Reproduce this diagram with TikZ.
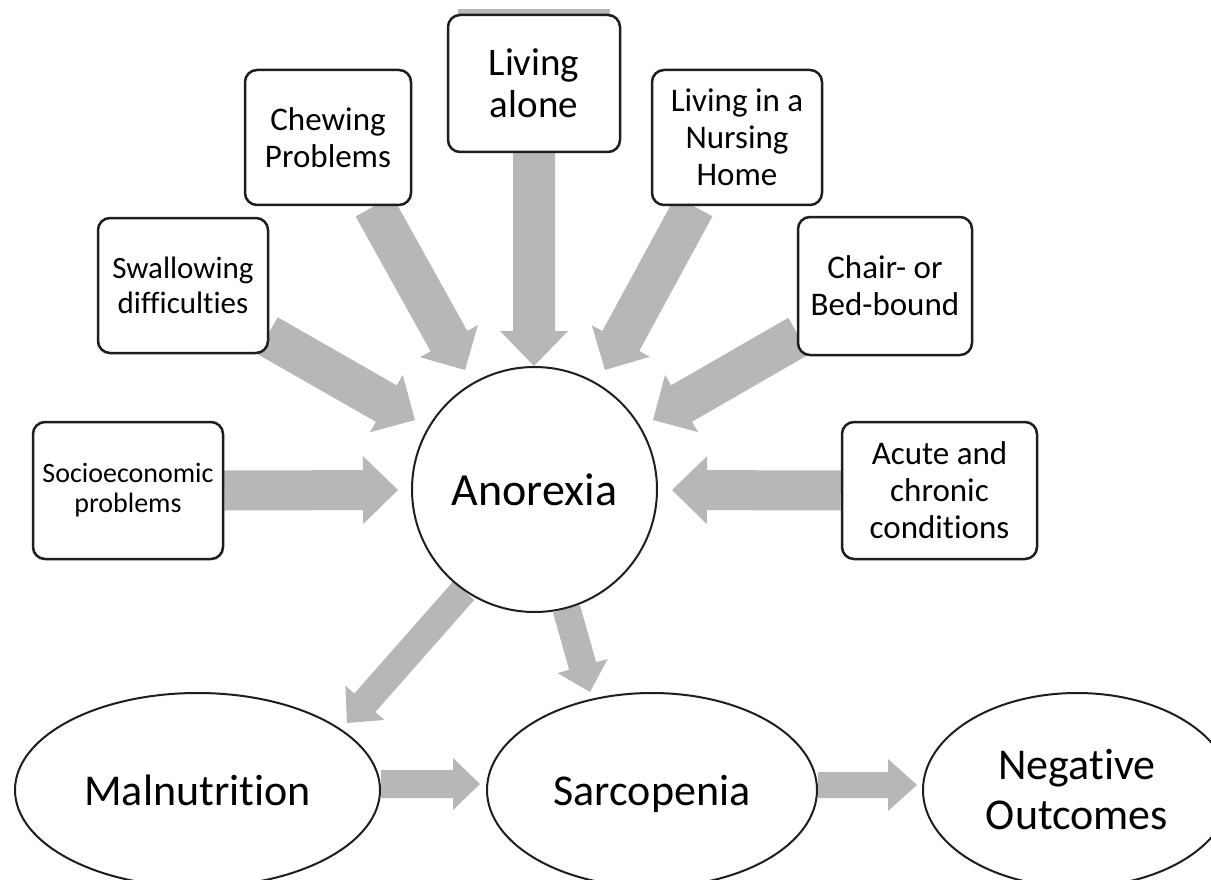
\documentclass[tikz,border=0pt]{standalone}
\usepackage{fontspec}
\setmainfont{Carlito}[Ligatures={NoCommon}]
\usetikzlibrary{calc,shapes.geometric}
\pgfdeclarelayer{bg}
\pgfsetlayers{bg,main}
\definecolor{arrowfill}{RGB}{183,183,183}
\definecolor{edgecol}{RGB}{30,30,30}
\newcommand{\blockarrow}[5]{%
  \coordinate (bahead) at ($(#2)!#5!(#1)$);
  \fill[arrowfill] ($(#1)!#3!90:(#2)$) -- ($(bahead)!#3!90:(#2)$) -- ($(bahead)!#4!90:(#2)$) -- (#2)
    -- ($(bahead)!#4!-90:(#2)$) -- ($(bahead)!#3!-90:(#2)$) -- ($(#1)!#3!-90:(#2)$) -- cycle;
}
\begin{document}
\begin{tikzpicture}[x=1pt,y=-1pt,
  box/.style={draw=edgecol, line width=2.5pt, rounded corners=12pt, fill=white, align=center, inner sep=0pt},
  oval/.style={draw=edgecol, line width=2pt, ellipse, fill=white, align=center, inner sep=0pt,
    font=\fontsize{44}{50}\selectfont},
  txt33/.style={font=\fontsize{33}{37}\selectfont}]
\clip (0,0) rectangle (1211,880);
% nodes
\node[box, txt33, minimum width=172pt, minimum height=137pt, font=\fontsize{39}{42}\selectfont] (live) at (534,83.5) {Living\\alone};
\node[box, txt33, minimum width=166pt, minimum height=135pt] (chew) at (328,137.5) {Chewing\\Problems};
\node[box, minimum width=170pt, minimum height=135pt, font=\fontsize{31}{35}\selectfont] (swal) at (183,285.5) {Swallowing\\difficulties};
\node[box, minimum width=190pt, minimum height=137pt, font=\fontsize{28}{30}\selectfont] (socio) at (128,490.5) {Socioeconomic\\problems};
\node[box, txt33, minimum width=170pt, minimum height=135pt] (nurs) at (737,137.5) {Living in a\\Nursing\\Home};
\node[box, txt33, minimum width=174pt, minimum height=138pt] (chair) at (885,286) {Chair- or\\Bed-bound};
\node[box, txt33, minimum width=195pt, minimum height=137pt] (acute) at (939.5,490.5) {Acute and\\chronic\\conditions};
\node[draw=edgecol, line width=2pt, circle, minimum size=245pt, inner sep=0pt, fill=white,
  font=\fontsize{46}{50}\selectfont] (anor) at (534.5,489.5) {Anorexia};
\node[oval, minimum width=365pt, minimum height=194pt] (mal) at (197.5,790) {Malnutrition};
\node[oval, minimum width=330pt, minimum height=194pt, text depth=0pt] (sar) at (652,790) {Sarcopenia};
\node[oval, minimum width=308pt, minimum height=194pt] (neg) at (1077,790) {Negative\\Outcomes};
% connector end points
\coordinate (s1) at (socio.east);        \coordinate (t1) at (398,490);
\coordinate (s2) at (acute.west);        \coordinate (t2) at (672,490);
\coordinate (s3) at (live.south);        \coordinate (t3) at (534,366);
\coordinate (s4) at ($(chew.south)+(46,0)$); \coordinate (t4) at (465,370);
\coordinate (s5) at ($(nurs.south)+(-43,0)$); \coordinate (t5) at (605,370);
\coordinate (s6) at ($(swal.east)+(-2,50)$); \coordinate (t6) at (415,420);
\coordinate (s7) at ($(chair.west)+(2,50)$); \coordinate (t7) at (653,420);
\coordinate (s8) at (anor.235);          \coordinate (t8) at (347,723);
\coordinate (s9) at (anor.285);          \coordinate (t9) at (590,692);
\coordinate (s10) at ($(mal.east)+(0,-6)$); \coordinate (t10) at (480,784);
\coordinate (s11) at ($(sar.east)+(0,-5)$); \coordinate (t11) at (917,785);
\begin{pgfonlayer}{bg}
\fill[white] (0,0) rectangle (1211,880);
\fill[arrowfill] (458,9) rectangle (610,15);
\blockarrow{s1}{t1}{20pt}{34pt}{35pt}
\blockarrow{s2}{t2}{20pt}{34pt}{35pt}
\blockarrow{s3}{t3}{21pt}{34pt}{35pt}
\blockarrow{s4}{t4}{21pt}{33pt}{33pt}
\blockarrow{s5}{t5}{21pt}{33pt}{33pt}
\blockarrow{s6}{t6}{21pt}{33pt}{33pt}
\blockarrow{s7}{t7}{21pt}{33pt}{33pt}
\blockarrow{s8}{t8}{14pt}{26pt}{27pt}
\blockarrow{s9}{t9}{14pt}{26pt}{27pt}
\blockarrow{s10}{t10}{14pt}{26pt}{27pt}
\blockarrow{s11}{t11}{13pt}{26pt}{29pt}
\end{pgfonlayer}
\end{tikzpicture}
\end{document}
